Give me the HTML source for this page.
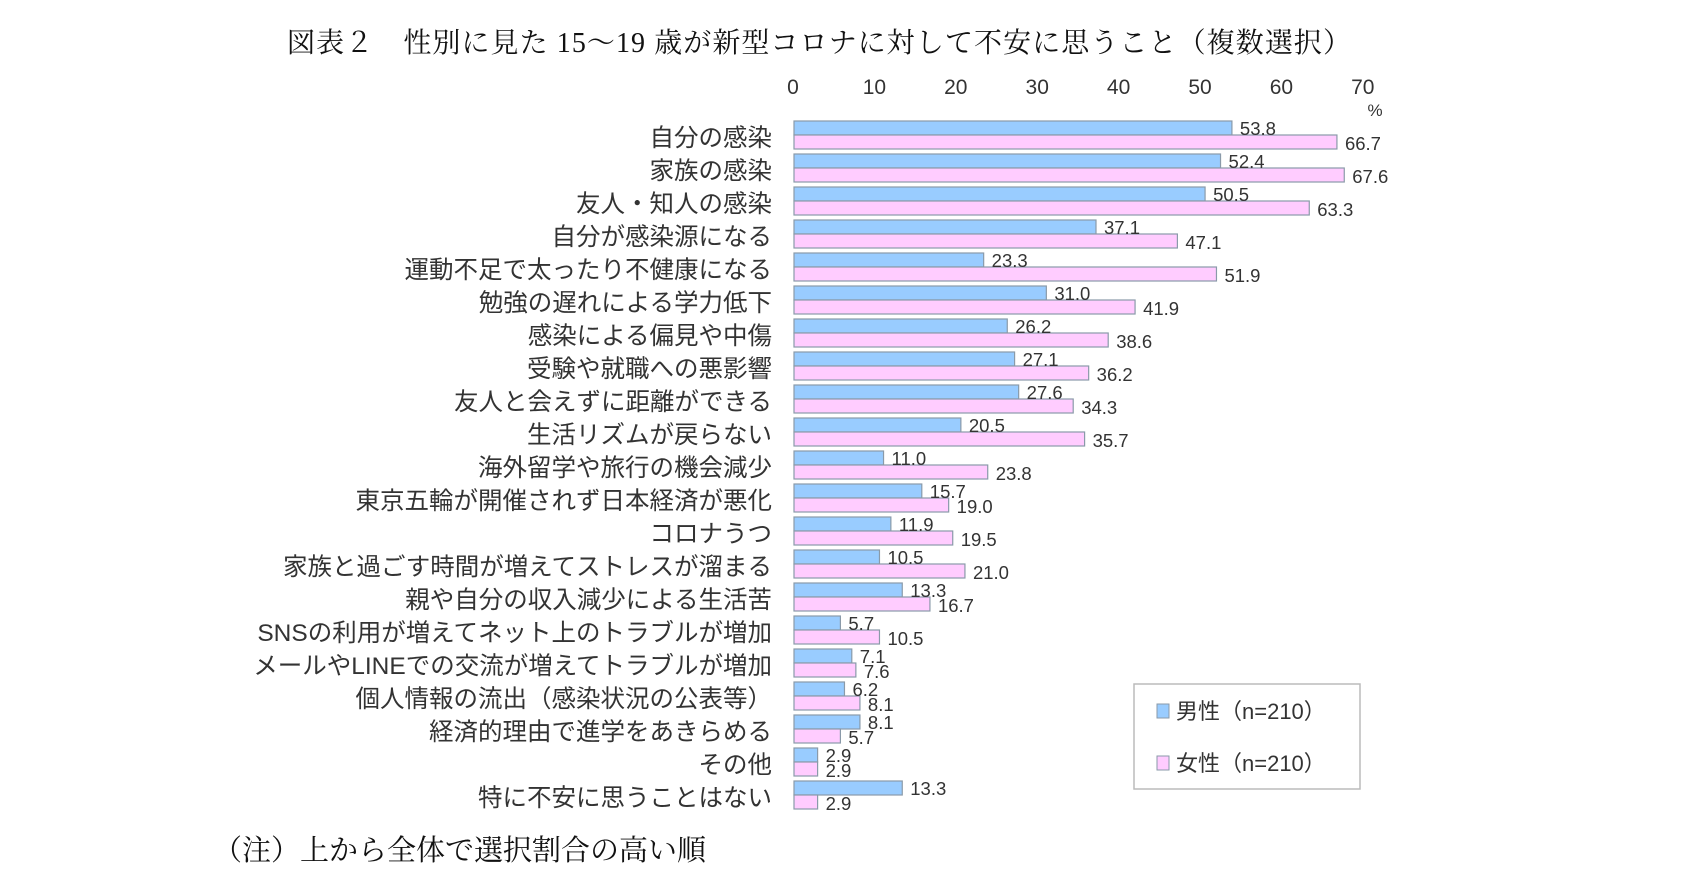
<!DOCTYPE html>
<html><head><meta charset="utf-8">
<style>
html,body{margin:0;padding:0;background:#fff;}
svg{display:block;}
.t{font-family:"Liberation Serif","Noto Serif CJK JP",serif;fill:#111;}
.s{font-family:"Liberation Sans","Noto Sans CJK JP",sans-serif;fill:#333;}
</style></head>
<body>
<svg id="chart" width="1686" height="889" viewBox="0 0 1686 889" xmlns="http://www.w3.org/2000/svg">
<text class="t" x="287" y="52" font-size="28" textLength="1064">図表２　性別に見た 15～19 歳が新型コロナに対して不安に思うこと（複数選択）</text>
<text class="t" x="213" y="860" font-size="29">（注）上から全体で選択割合の高い順</text>
<text class="s" x="1375" y="116" font-size="17" text-anchor="middle">%</text>
<g id="ticks"></g>
<g id="labels"></g>
<g id="bars"></g>
<g>
<rect x="1134" y="684" width="226" height="105" fill="#fff" stroke="#bbb" stroke-width="1.5"/>
<rect x="1157" y="704" width="12" height="14" fill="#99ccff" stroke="#8a9aa9"/>
<text class="s" x="1176" y="719" font-size="22">男性（n=210）</text>
<rect x="1157" y="756" width="12" height="14" fill="#ffccff" stroke="#8a9aa9"/>
<text class="s" x="1176" y="771" font-size="22">女性（n=210）</text>
</g>
</svg>
<script>
const categories = ["自分の感染","家族の感染","友人・知人の感染","自分が感染源になる","運動不足で太ったり不健康になる","勉強の遅れによる学力低下","感染による偏見や中傷","受験や就職への悪影響","友人と会えずに距離ができる","生活リズムが戻らない","海外留学や旅行の機会減少","東京五輪が開催されず日本経済が悪化","コロナうつ","家族と過ごす時間が増えてストレスが溜まる","親や自分の収入減少による生活苦","SNSの利用が増えてネット上のトラブルが増加","メールやLINEでの交流が増えてトラブルが増加","個人情報の流出（感染状況の公表等）","経済的理由で進学をあきらめる","その他","特に不安に思うことはない"];
const maleValues = [53.8,52.4,50.5,37.1,23.3,31.0,26.2,27.1,27.6,20.5,11.0,15.7,11.9,10.5,13.3,5.7,7.1,6.2,8.1,2.9,13.3];
const femaleValues = [66.7,67.6,63.3,47.1,51.9,41.9,38.6,36.2,34.3,35.7,23.8,19.0,19.5,21.0,16.7,10.5,7.6,8.1,5.7,2.9,2.9];
const tickValues = [0,10,20,30,40,50,60,70];

const NS = "http://www.w3.org/2000/svg";
const X0 = 794, SX = 8.14, Y0 = 121, PITCH = 33, BH = 14;
const xScale = v => X0 + v * SX;
const yRow = i => Y0 + i * PITCH;
function mk(tag, attrs, parent, text){
  const e = document.createElementNS(NS, tag);
  for (const k in attrs) e.setAttribute(k, attrs[k]);
  if (text !== undefined) e.textContent = text;
  parent.appendChild(e);
  return e;
}
const gT = document.getElementById('ticks'), gL = document.getElementById('labels'), gB = document.getElementById('bars');
tickValues.forEach(v => {
  const t = mk('text', {x: xScale(v) - 1, y: 94, 'font-size': 21, 'text-anchor': 'middle', class: 's'}, gT, String(v));
  
  
});
categories.forEach((c, i) => {
  const y = yRow(i);
  const lab = mk('text', {x: 772, y: y + 25, 'font-size': 24.5, 'text-anchor': 'end', class: 's', fill: '#444'}, gL, c);
  
  
  const m = maleValues[i], f = femaleValues[i];
  const rb = mk('rect', {x: X0, y: y, width: xScale(m) - X0, height: BH, fill: '#99ccff', stroke: '#8a9aa9', 'stroke-width': 1.2}, gB);
  
  
  const rp = mk('rect', {x: X0, y: y + BH, width: xScale(f) - X0, height: BH, fill: '#ffccff', stroke: '#8a9aa9', 'stroke-width': 1.2}, gB);
  
  
  const vm = mk('text', {x: xScale(m) + 8, y: y + 14, 'font-size': 18.5, class: 's'}, gB, m.toFixed(1));
  
  
  const vf = mk('text', {x: xScale(f) + 8, y: y + BH + 15, 'font-size': 18.5, class: 's'}, gB, f.toFixed(1));
  
  
});
</script>
</body></html>
